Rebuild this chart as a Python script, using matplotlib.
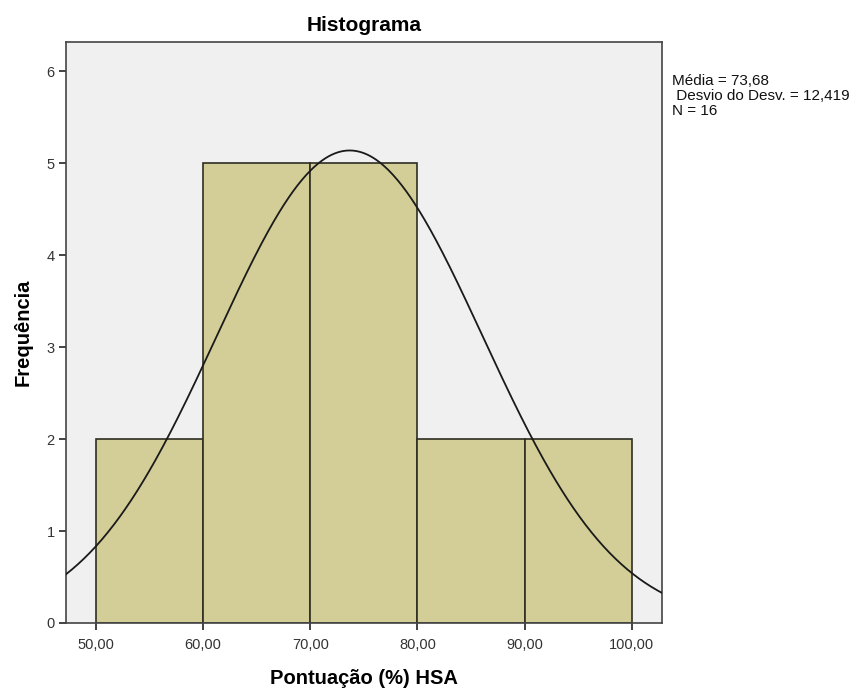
import numpy as np
import matplotlib
matplotlib.use("Agg")
import matplotlib.pyplot as plt

plt.rcParams['font.family'] = ['Liberation Sans', 'DejaVu Sans']

# histogram data
bin_edges = [50, 60, 70, 80, 90, 100]
counts = [2, 5, 5, 2, 2]
mean = 73.68
sd = 12.419
n = 16
x_ticks = [50, 60, 70, 80, 90, 100]
x_tick_labels = ["50,00", "60,00", "70,00", "80,00", "90,00", "100,00"]
y_ticks = [0, 1, 2, 3, 4, 5, 6]

fig = plt.figure(figsize=(8.56, 6.88), dpi=100)
ax = fig.add_axes([0.077, 0.0945, 0.696, 0.8445])
ax.set_facecolor("#F0F0F0")

lefts = bin_edges[:-1]
widths = np.diff(bin_edges)
ax.bar(lefts, counts, width=widths, align="edge", color="#D3CE97",
       edgecolor="#2E2E22", linewidth=1.2, zorder=2)

# fitted normal curve scaled to counts
xs = np.linspace(47.2, 102.8, 400)
bw = bin_edges[1] - bin_edges[0]
ys = n * bw / (sd * np.sqrt(2 * np.pi)) * np.exp(-0.5 * ((xs - mean) / sd) ** 2)
ax.plot(xs, ys, color="#1A1A1A", linewidth=1.3, zorder=3)

ax.set_xlim(47.2, 102.8)
ax.set_ylim(0, 6.32)
ax.set_xticks(x_ticks)
ax.set_xticklabels(x_tick_labels)
ax.set_yticks(y_ticks)
ax.tick_params(direction="out", length=5, width=1.2, color="#222222",
               labelsize=10.5, labelcolor="#333333", pad=3)
ax.tick_params(axis="x", pad=6)
for s in ax.spines.values():
    s.set_color("#444444")
    s.set_linewidth(1.2)

ax.set_title("Histograma", fontsize=15, fontweight="bold", pad=8)
ax.set_xlabel("Pontuação (%) HSA", fontsize=14.5, fontweight="bold", labelpad=12)
ax.set_ylabel("Frequência", fontsize=14.5, fontweight="bold", labelpad=10)

stats = "Média = 73,68\n Desvio do Desv. = 12,419\nN = 16"
fig.text(672 / 856, 1 - 74 / 688, stats, fontsize=11, va="top", ha="left",
         linespacing=1.1, color="#111111")

fig.savefig("out.png", dpi=100)
